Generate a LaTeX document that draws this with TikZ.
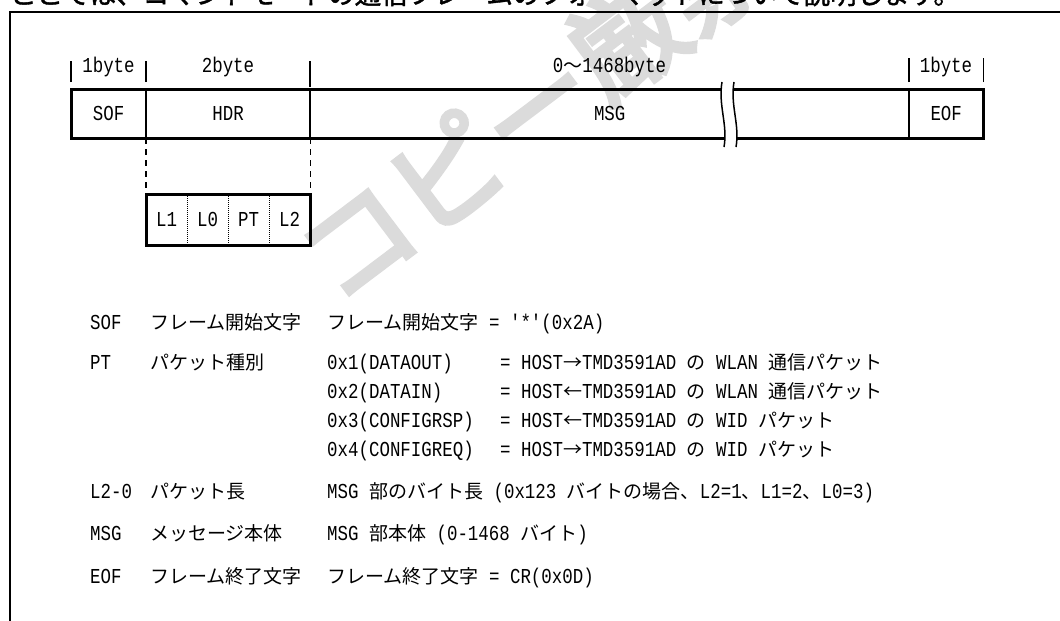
\documentclass[tikz,border=0pt]{standalone}
\usepackage{fontspec}
\newfontfamily\jp{Noto Sans CJK JP}
\newfontfamily\jpbold{Noto Sans CJK JP}[FakeBold=4]
\newfontfamily\jphead{Noto Sans CJK JP}[FakeBold=1.5]
\newfontfamily\latf{Liberation Mono}[FakeStretch=0.82, Scale=1.12]
% automatic switch between Latin and CJK fonts
\XeTeXinterchartokenstate=1
\newXeTeXintercharclass\CJKcls
\makeatletter
\def\setcjkrange#1#2{\count@=#1\relax
  \loop\XeTeXcharclass\count@=\CJKcls\relax
  \ifnum\count@<#2\advance\count@ by 1\repeat}
\setcjkrange{"2190}{"21FF}
\setcjkrange{"3000}{"30FF}
\setcjkrange{"4E00}{"9FFF}
\setcjkrange{"FF00}{"FFEF}
\makeatother
\let\cjkfont\jp
\let\latinfont\latf
\XeTeXinterchartoks 0 \CJKcls = {\cjkfont}
\XeTeXinterchartoks 4095 \CJKcls = {\cjkfont}
\XeTeXinterchartoks \CJKcls 0 = {\latinfont}
\XeTeXinterchartoks \CJKcls 4095 = {\latinfont}
\begin{document}
\begin{tikzpicture}[x=1pt,y=-1pt,
  every node/.style={font=\fontsize{19}{23}\selectfont\latf, inner sep=0pt},
  cell/.style={minimum height=49pt, anchor=north west},
  lcell/.style={minimum height=51pt, minimum width=41pt, anchor=north west},
  outer/.style={line width=3pt},
  divider/.style={line width=2pt},
  tick/.style={line width=1.5pt},
  guide/.style={line width=1.5pt, dash pattern=on 6pt off 5pt},
  sub/.style={line width=1pt, densely dotted},
  leg/.style={anchor=base west}
]
\useasboundingbox (0,0) rectangle (1060,621);
\clip (0,0) rectangle (1060,621);
% watermark
\node[text=black!14, rotate=37,
  font={\fontsize{112}{112}\selectfont\let\cjkfont\jpbold\jpbold}] (wm) at (536,106) {コピー厳禁};
% cut-off heading
\node[anchor=base west,
  font={\fontsize{26.5}{30}\selectfont\let\cjkfont\jphead\jphead}] (title) at (10,4) {ここでは、コマンドモードの通信フレームのフォーマットについて説明します。};
% frame
\draw[line width=2.5pt] (10,625) -- (10,12) -- (1065,12);

% frame fields
\node[cell, minimum width=75pt]  (sof) at (71,89)  {SOF};
\node[cell, minimum width=164pt] (hdr) at (146,89) {HDR};
\node[cell, minimum width=599pt] (msg) at (310,89) {MSG};
\node[cell, minimum width=74pt]  (eof) at (909,89) {EOF};
\draw[outer] (sof.north west) rectangle (eof.south east);
\draw[divider] (hdr.north west) -- (hdr.south west);
\draw[divider] (msg.north west) -- (msg.south west);
\draw[divider] (eof.north west) -- (eof.south west);

% break mark
\coordinate (b1t) at (722,82); \coordinate (b1b) at (724,147);
\coordinate (b2t) at (734,82); \coordinate (b2b) at (736,147);
\fill[white] (b1t) .. controls (718,105) and (728,125) .. (b1b) -- (b2b) .. controls (740,125) and (730,105) .. (b2t) -- cycle;
\draw[tick] (b1t) .. controls (718,105) and (728,125) .. (b1b);
\draw[tick] (b2t) .. controls (730,105) and (740,125) .. (b2b);

% size ticks
\draw[tick] (sof.north west) ++(0,-7) -- ++(0,-21);
\draw[tick] (hdr.north west) ++(0,-7) -- ++(0,-21);
\draw[tick] (msg.north west) ++(0,-2) -- ++(0,-26);
\draw[tick] (eof.north west) ++(0,-7) -- ++(0,-24);
\draw[tick] (eof.north east) ++(0,-7) -- ++(0,-24);
\node[anchor=base] (s1) at (108.5,72) {1byte};
\node[anchor=base] (s2) at (228,72) {2byte};
\node[anchor=base] (s3) at (609.5,72) {0～1468byte};
\node[anchor=base] (s4) at (946,72) {1byte};

% header detail
\node[lcell] (l1) at (146,194) {L1};
\node[lcell] (l0) at (187,194) {L0};
\node[lcell] (pt) at (228,194) {PT};
\node[lcell] (l2) at (269,194) {L2};
\draw[outer] (l1.north west) rectangle (l2.south east);
\draw[sub] (l0.north west) -- (l0.south west);
\draw[sub] (pt.north west) -- (pt.south west);
\draw[sub] (l2.north west) -- (l2.south west);
\draw[guide] (hdr.south west) -- (l1.north west);
\draw[guide] (hdr.south east) -- (l2.north east);

% legend
\node[leg] (a1) at (90,329) {SOF};
\node[leg] (a2) at (150,329) {フレーム開始文字};
\node[leg] (a3) at (327,329) {フレーム開始文字 = '*'(0x2A)};

\node[leg] (b1) at (90,369) {PT};
\node[leg] (b2) at (150,369) {パケット種別};
\node[leg] (b3) at (327,369) {0x1(DATAOUT)};
\node[leg] (b4) at (500,369) {= HOST→TMD3591AD の WLAN 通信パケット};
\node[leg] (b5) at (327,398) {0x2(DATAIN)};
\node[leg] (b6) at (500,398) {= HOST←TMD3591AD の WLAN 通信パケット};
\node[leg] (b7) at (327,427) {0x3(CONFIGRSP)};
\node[leg] (b8) at (500,427) {= HOST←TMD3591AD の WID パケット};
\node[leg] (b9) at (327,456) {0x4(CONFIGREQ)};
\node[leg] (b10) at (500,456) {= HOST→TMD3591AD の WID パケット};

\node[leg] (c1) at (90,498) {L2-0};
\node[leg] (c2) at (150,498) {パケット長};
\node[leg] (c3) at (327,498) {MSG 部のバイト長 (0x123 バイトの場合、L2=1、L1=2、L0=3)};

\node[leg] (d1) at (90,540) {MSG};
\node[leg] (d2) at (150,540) {メッセージ本体};
\node[leg] (d3) at (327,540) {MSG 部本体 (0-1468 バイト)};

\node[leg] (e1) at (90,583) {EOF};
\node[leg] (e2) at (150,583) {フレーム終了文字};
\node[leg] (e3) at (327,583) {フレーム終了文字 = CR(0x0D)};
\end{tikzpicture}
\end{document}
